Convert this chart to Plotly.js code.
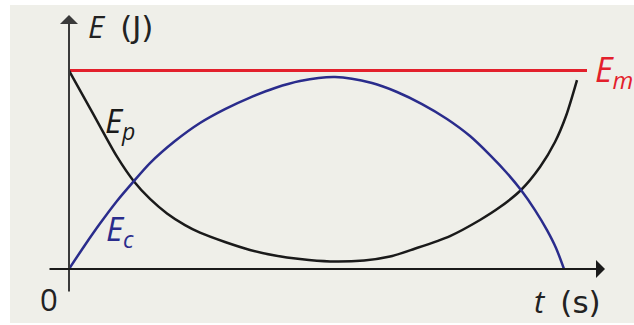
<!DOCTYPE html>
<html>
<head>
<meta charset="utf-8">
<script src="https://cdn.plot.ly/plotly-3.0.1.min.js"></script>
<style>
  html, body { margin: 0; padding: 0; background: #ffffff; }
  #chart { position: absolute; left: 10px; top: 5px; width: 624px; height: 318px; }
</style>
</head>
<body>
<div id="chart"></div>
<script>
// Energy exchange over one swing: potential, kinetic and mechanical energy
const tPotential = [0, 0.48, 0.96, 1.30, 1.62, 1.96, 2.32, 2.62, 3.12, 3.62, 4.12, 4.62, 5.22, 5.90, 6.42, 6.90, 7.62, 8.22, 8.62, 9.04, 9.42, 9.72, 9.94, 10.16];
const ePotential = [10.0, 7.83, 5.66, 4.41, 3.53, 2.80, 2.21, 1.83, 1.36, 0.96, 0.68, 0.50, 0.38, 0.43, 0.63, 1.01, 1.66, 2.47, 3.12, 3.98, 5.14, 6.40, 7.71, 9.52];

const tKinetic = [0, 0.32, 0.62, 0.96, 1.28, 1.62, 2.12, 2.62, 3.12, 3.62, 4.12, 4.62, 5.32, 6.06, 6.56, 7.06, 7.56, 8.02, 8.44, 8.74, 9.04, 9.32, 9.56, 9.74, 9.90];
const eKinetic = [0, 1.21, 2.29, 3.43, 4.38, 5.34, 6.45, 7.36, 8.06, 8.64, 9.12, 9.47, 9.67, 9.37, 8.92, 8.31, 7.56, 6.70, 5.69, 4.89, 3.98, 2.97, 1.96, 1.06, 0];

const tMechanical = [0, 10.36];
const eMechanical = [10, 10];

const UNIT_FONT = 'font-family:DejaVu Sans';
const axisLabels = {
  y: '<i>E</i>&nbsp;&nbsp;<span style="' + UNIT_FONT + '">(J)</span>',
  x: '<i>t</i>&nbsp;&nbsp;<span style="' + UNIT_FONT + '">(s)</span>',
  origin: '0'
};
const curveLabels = {
  mechanical: '<i>E<sub>m</sub></i>',
  potential: '<i>E<sub>p</sub></i>',
  kinetic: '<i>E<sub>c</sub></i>'
};

const RED = '#e3202c', BLUE = '#2a2c8c', BLACK = '#1a1a1a';
const FONT = 'Open Sans, DejaVu Sans, sans-serif';

const traces = [
  { x: tMechanical, y: eMechanical, mode: 'lines', line: { color: RED, width: 3 }, hoverinfo: 'skip' },
  { x: tPotential, y: ePotential, mode: 'lines', line: { color: BLACK, width: 2.5, shape: 'spline', smoothing: 0.8 }, hoverinfo: 'skip' },
  { x: tKinetic, y: eKinetic, mode: 'lines', line: { color: BLUE, width: 2.5, shape: 'spline', smoothing: 0.8 }, hoverinfo: 'skip' }
];

const hiddenAxis = { showgrid: false, zeroline: false, showline: false, showticklabels: false, ticks: '', fixedrange: true };

const layout = {
  width: 624, height: 318,
  margin: { l: 38, r: 29, t: 10, b: 30 },
  paper_bgcolor: '#efefe9', plot_bgcolor: 'rgba(0,0,0,0)',
  showlegend: false,
  xaxis: Object.assign({ range: [-0.42, 10.72] }, hiddenAxis),
  yaxis: Object.assign({ range: [-1.21, 12.8] }, hiddenAxis),
  annotations: [
    // axes with arrow tips
    { x: 0, y: 12.8, ax: 0, ay: -1.21, axref: 'x', ayref: 'y', xref: 'x', yref: 'y', text: '',
      showarrow: true, arrowhead: 1, arrowsize: 1.5, arrowwidth: 2, arrowcolor: '#3a3a3a', standoff: 0 },
    { x: 10.72, y: 0, ax: -0.42, ay: 0, axref: 'x', ayref: 'y', xref: 'x', yref: 'y', text: '',
      showarrow: true, arrowhead: 1, arrowsize: 1.5, arrowwidth: 2, arrowcolor: BLACK, standoff: 0 },
    // axis labels
    { x: 0.34, y: 12.25, xref: 'x', yref: 'y', text: axisLabels.y, showarrow: false,
      xanchor: 'left', yanchor: 'middle', font: { family: FONT, size: 31, color: '#222' } },
    { x: 0.996, y: -0.027, xref: 'paper', yref: 'paper', text: axisLabels.x, showarrow: false,
      xanchor: 'right', yanchor: 'middle', font: { family: FONT, size: 31, color: '#222' } },
    { x: 0.002, y: -0.022, xref: 'paper', yref: 'paper', text: axisLabels.origin, showarrow: false,
      xanchor: 'center', yanchor: 'middle', font: { family: FONT, size: 31, color: '#222' } },
    // curve labels
    { x: 10.48, y: 9.98, xref: 'x', yref: 'y', text: curveLabels.mechanical, showarrow: false,
      xanchor: 'left', yanchor: 'middle', font: { family: FONT, size: 34, color: RED } },
    { x: 0.68, y: 7.4, xref: 'x', yref: 'y', text: curveLabels.potential, showarrow: false,
      xanchor: 'left', yanchor: 'middle', font: { family: FONT, size: 33, color: BLACK } },
    { x: 0.7, y: 1.95, xref: 'x', yref: 'y', text: curveLabels.kinetic, showarrow: false,
      xanchor: 'left', yanchor: 'middle', font: { family: FONT, size: 33, color: BLUE } }
  ]
};

Plotly.newPlot('chart', traces, layout, { displayModeBar: false, staticPlot: true });
</script>
</body>
</html>
